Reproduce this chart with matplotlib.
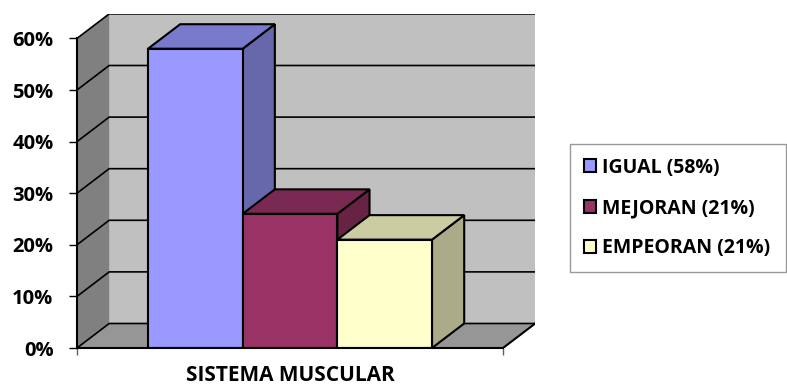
import matplotlib
matplotlib.use('Agg')
import matplotlib.pyplot as plt
from matplotlib.patches import Polygon, Patch
from matplotlib.colors import to_rgb

# data
categories = ['IGUAL (58%)', 'MEJORAN (21%)', 'EMPEORAN (21%)']
values = [58, 26, 21]
colors = ['#9999FF', '#993366', '#FFFFCC']
yticks = [0, 10, 20, 30, 40, 50, 60]
group_label = 'SISTEMA MUSCULAR'

FONT = ['Open Sans', 'DejaVu Sans']
plt.rcParams['font.family'] = FONT

# 3d look: depth offsets in data units
X0, X1 = -1.25, 3.25
DX, DY = 0.34, 4.75
YMAX = 60

W, H = 787, 388
fig = plt.figure(figsize=(W / 100, H / 100), dpi=100)
ax = fig.add_axes([77 / W, 40 / H, (X1 + DX - X0) * 94.67 / W, (YMAX + DY) * 5.16 / H])
ax.set_xlim(X0, X1 + DX)
ax.set_ylim(0, YMAX + DY)
ax.patch.set_visible(False)


def shade(c, f):
    r, g, b = to_rgb(c)
    return (r * f, g * f, b * f)


# walls and floor
back = Polygon([(X0 + DX, DY), (X1 + DX, DY), (X1 + DX, YMAX + DY), (X0 + DX, YMAX + DY)],
               closed=True, facecolor='#C0C0C0', edgecolor='none', zorder=0)
left = Polygon([(X0, 0), (X0 + DX, DY), (X0 + DX, YMAX + DY), (X0, YMAX)],
               closed=True, facecolor='#808080', edgecolor='none', zorder=0)
floor = Polygon([(X0, 0), (X1, 0), (X1 + DX, DY), (X0 + DX, DY)],
                closed=True, facecolor='#969696', edgecolor='none', zorder=0)
for p in (back, left, floor):
    ax.add_patch(p)
ax.plot([X1, X1 + DX], [0, DY], color='black', lw=1.5, zorder=1)

# gridlines on walls
for t in yticks:
    ax.plot([X0, X0 + DX, X1 + DX], [t, t + DY, t + DY], color='black', lw=1.2, zorder=1,
            solid_joinstyle='miter')

# bars
xs = list(range(len(values)))
bw = 1.0
for i, (x, v, c) in enumerate(zip(xs, values, colors)):
    xl, xr = x - bw / 2, x + bw / 2
    side = Polygon([(xr, 0), (xr + DX, DY), (xr + DX, v + DY), (xr, v)], closed=True,
                   facecolor=shade(c, 0.67), edgecolor='black', lw=1.5, zorder=2 + i * 3)
    top = Polygon([(xl, v), (xr, v), (xr + DX, v + DY), (xl + DX, v + DY)], closed=True,
                  facecolor=shade(c, 0.8), edgecolor='black', lw=1.5, zorder=3 + i * 3)
    ax.add_patch(side)
    ax.add_patch(top)
    ax.bar(x, v, width=bw, color=c, edgecolor='black', lw=1.5, zorder=4 + i * 3)

# axes
for s in ('top', 'right'):
    ax.spines[s].set_visible(False)
ax.spines['left'].set_bounds(0, YMAX)
ax.spines['bottom'].set_bounds(X0, X1)
ax.spines['left'].set_linewidth(1.5)
ax.spines['bottom'].set_linewidth(1.5)
ax.spines['left'].set_zorder(20)
ax.spines['bottom'].set_zorder(20)

ax.set_yticks(yticks)
ax.set_yticklabels([f'{t}%' for t in yticks], fontsize=14.5, fontweight='bold')
ax.tick_params(axis='y', length=6, width=1, pad=11, color='black')

ax.set_xticks([1])
ax.set_xticklabels([group_label], fontsize=15, fontweight='bold')
ax.tick_params(axis='x', length=0, pad=12)
ax.set_xticks([X0, X1], minor=True)
ax.tick_params(axis='x', which='minor', length=5, width=1, color='#606060')

# legend
handles = [Patch(facecolor=c, edgecolor='black', lw=1.5) for c in colors]
leg = fig.legend(handles, categories, loc='upper left',
                 bbox_to_anchor=(570 / W, 1 - 271 / H, 216 / W, 127 / H), mode='expand',
                 prop={'family': FONT, 'weight': 'bold', 'size': 14},
                 handlelength=0.65, handleheight=0.65, handletextpad=0.3,
                 labelspacing=1.05, borderpad=0.7, borderaxespad=0, fancybox=False)
leg.get_frame().set_edgecolor('#808080')
leg.get_frame().set_linewidth(1)

fig.savefig('out.png', dpi=100, facecolor='white')
